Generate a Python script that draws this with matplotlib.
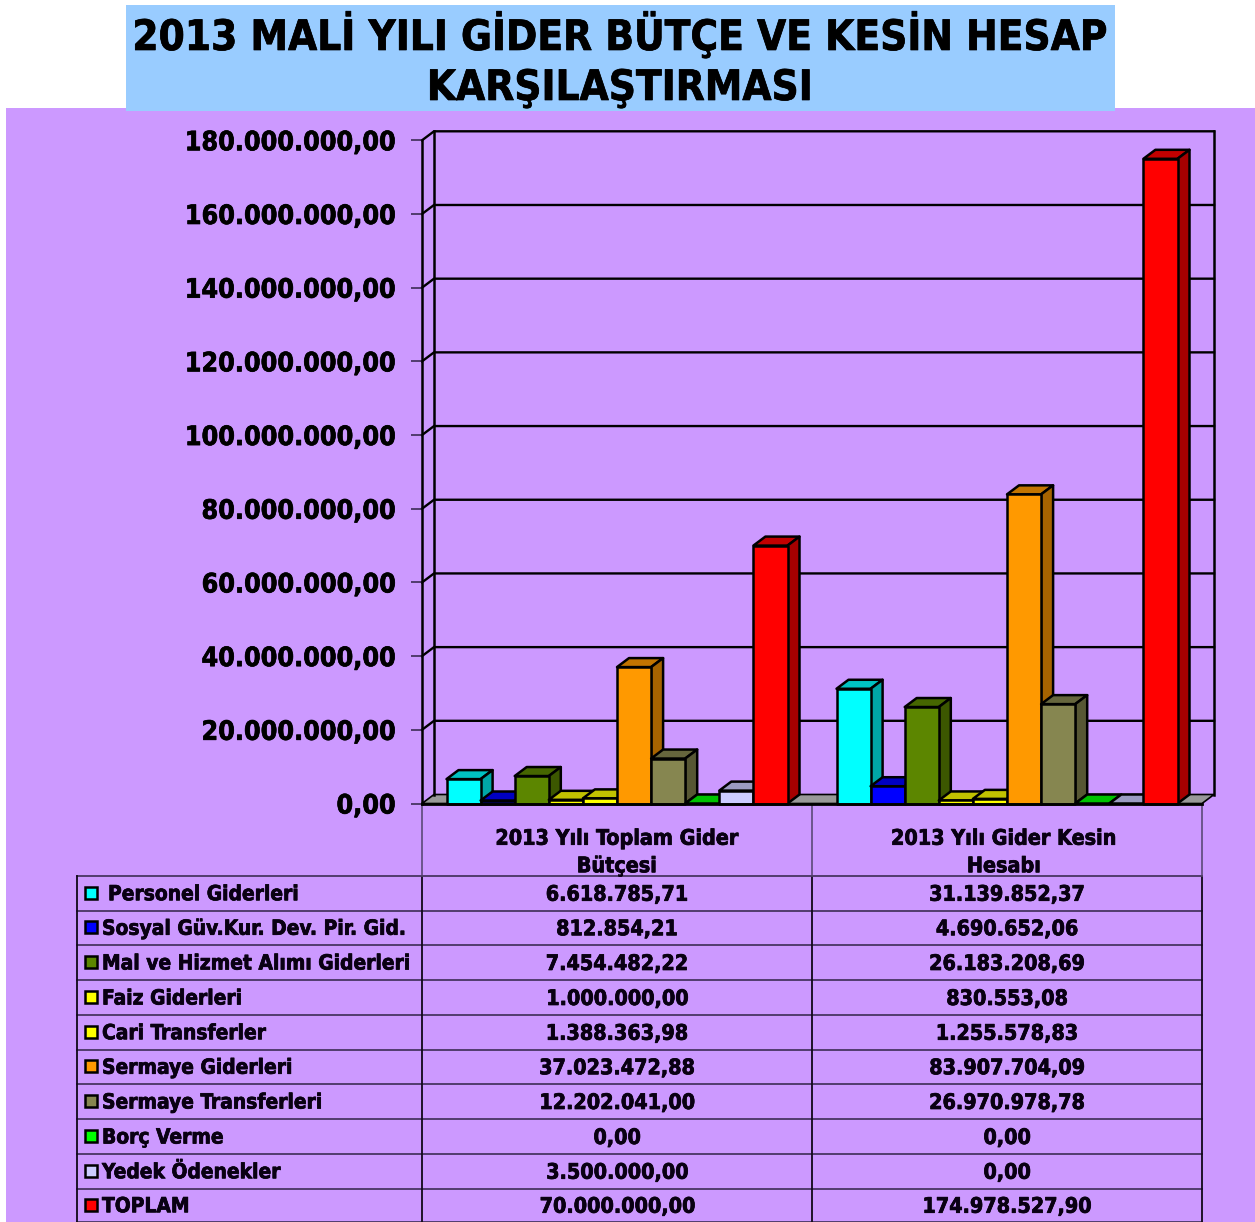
import matplotlib
matplotlib.use('Agg')
import matplotlib.pyplot as plt
import matplotlib.patheffects as pe
from matplotlib.patches import Polygon, Rectangle
from matplotlib.colors import to_rgb

# Data
groups = ['2013 Yılı Toplam Gider\nBütçesi', '2013 Yılı Gider Kesin\nHesabı']
names = ['Personel Giderleri', 'Sosyal Güv.Kur. Dev. Pir. Gid.', 'Mal ve Hizmet Alımı Giderleri',
         'Faiz Giderleri', 'Cari Transferler', 'Sermaye Giderleri', 'Sermaye Transferleri',
         'Borç Verme', 'Yedek Ödenekler', 'TOPLAM']
butce = [6618785.71, 812854.21, 7454482.22, 1000000.00, 1388363.98,
         37023472.88, 12202041.00, 0.00, 3500000.00, 70000000.00]
kesin = [31139852.37, 4690652.06, 26183208.69, 830553.08, 1255578.83,
         83907704.09, 26970978.78, 0.00, 0.00, 174978527.90]
colors = ['#00FFFF', '#0000FF', '#5C8600', '#FFFF00', '#FFFF00',
          '#FF9900', '#868650', '#00FF00', '#CCCCFF', '#FF0000']
yticks = list(range(0, 180000001, 20000000))

W, H = 1255, 1222
font = dict(family='DejaVu Sans', weight='bold', stretch='condensed')
ink = '#0a0014'
heavy = [pe.withStroke(linewidth=0.5, foreground='black')]


def tr(v):
    return f'{v:,.2f}'.replace(',', '_').replace('.', ',').replace('_', '.')


def px(x0, y0, x1, y1):
    # figure rect from pixel box
    return [x0 / W, 1 - y1 / H, (x1 - x0) / W, (y1 - y0) / H]


fig = plt.figure(figsize=(W / 100, H / 100), dpi=100, facecolor='white')

# pixel overlay for the backgrounds and the table
bg = fig.add_axes([0, 0, 1, 1], zorder=0)
bg.set_xlim(0, W)
bg.set_ylim(H, 0)
bg.axis('off')
bg.add_patch(Rectangle((6, 108), W - 6, H - 108, fc='#CC99FF', ec='none'))
bg.add_patch(Rectangle((126, 5), 989, 106, fc='#99CCFF', ec='none'))
bg.text(620, 50, '2013 MALİ YILI GİDER BÜTÇE VE KESİN HESAP', ha='center', va='baseline', fontsize=30.2,
        color='black', path_effects=heavy, **font)
bg.text(620, 100, 'KARŞILAŞTIRMASI', ha='center', va='baseline', fontsize=30.2,
        color='black', path_effects=heavy, **font)

# table
row_y = [876, 910.5, 945, 980, 1015, 1049.5, 1084, 1119, 1154, 1188.5, 1222]
line_c = '#3d2c55'
for y in row_y:
    bg.plot([77, 1202], [y, y], color=line_c, lw=1.2)
for x in [77, 422, 812, 1202]:
    bg.plot([x, x], [876, H], color='#100818', lw=1.3)
for x in [422, 812, 1202]:
    bg.plot([x, x], [803, 876], color='#5c4a78', lw=1.2)
for i, g in enumerate(groups):
    bg.text(617 + i * 387, 852.5, g, ha='center', va='center', fontsize=15.4, linespacing=1.47,
            color=ink, path_effects=heavy, **font)
for i, n in enumerate(names):
    yc = (row_y[i] + row_y[i + 1]) / 2
    tx = 108 if i == 0 else 102
    bg.add_patch(Rectangle((85, yc - 6.5), 12, 12, fc=colors[i], ec='black', lw=1.8))
    bg.text(tx, yc + 1, n, ha='left', va='center', fontsize=15, color=ink, path_effects=heavy, **font)
    bg.text(617, yc + 1.5, tr(butce[i]), ha='center', va='center', fontsize=15.4, color=ink, path_effects=heavy, **font)
    bg.text(1007, yc + 1.5, tr(kesin[i]), ha='center', va='center', fontsize=15.4, color=ink, path_effects=heavy, **font)

# chart, the axes box is the front plane of the 3D box
ax = fig.add_axes(px(422, 140.3, 1202, 803.5), zorder=1)
ax.patch.set_alpha(0)
ax.set_xlim(0, 2)
ax.set_ylim(0, 180000000)
for s in ['top', 'right']:
    ax.spines[s].set_visible(False)
ax.spines['left'].set_linewidth(1.8)
ax.spines['bottom'].set_linewidth(2)
ax.spines['bottom'].set_zorder(50)
ax.set_xticks([])
ax.set_yticks(yticks)
ax.set_yticklabels([tr(v) for v in yticks], fontsize=19.2, color='black', path_effects=heavy, **font)
ax.tick_params(axis='y', length=8, width=1.2, pad=11, color='#3d2c55')

dx = 12 / 780 * 2
dy = 9 / 663.2 * 180000000

# floor and walls
ax.add_patch(Polygon([(0, 0), (dx, dy), (2 + dx, dy), (2, 0)], fc='#999999', ec='black', lw=1.2, clip_on=False, zorder=1))
ax.plot([dx, dx], [dy, 180000000 + dy], color='black', lw=1.8, clip_on=False, zorder=1)
ax.plot([2 + dx, 2 + dx], [dy, 180000000 + dy], color='black', lw=1.8, clip_on=False, zorder=1)
for v in yticks[1:]:
    ax.plot([0, dx, 2 + dx], [v, v + dy, v + dy], color='black', lw=1.7, clip_on=False, zorder=1,
            solid_joinstyle='miter')


def shade(c, f):
    return tuple(k * f for k in to_rgb(c))


def bar3d(x, w, h, c, z):
    kw = dict(ec='black', lw=1.8, clip_on=False, zorder=z, joinstyle='round')
    ax.add_patch(Polygon([(x, h), (x + dx, h + dy), (x + w + dx, h + dy), (x + w, h)], fc=shade(c, 0.76), **kw))
    if h > 0:
        ax.add_patch(Polygon([(x + w, 0), (x + w + dx, dy), (x + w + dx, h + dy), (x + w, h)], fc=shade(c, 0.65), **kw))
        ax.add_patch(Rectangle((x, 0), w, h, fc=c, **kw))


bw = 341 / 10 / 390
margin = 24.5 / 390
z = 2
for g, vals in enumerate([butce, kesin]):
    for i, v in enumerate(vals):
        bar3d(g + margin + i * bw, bw, v, colors[i], z)
        z += 1

fig.savefig('out.png', dpi=100, facecolor='white')
